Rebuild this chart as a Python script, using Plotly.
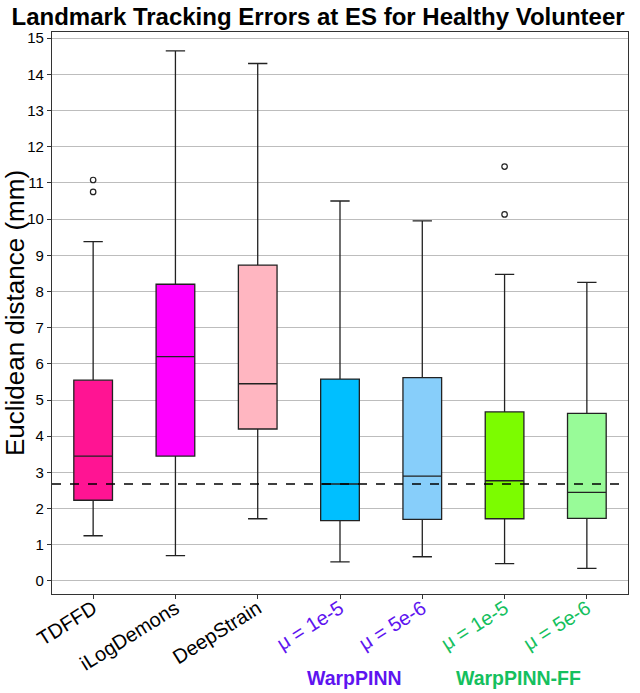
"""Landmark tracking errors at ES, healthy volunteer, as a Plotly box chart."""

import plotly.graph_objects as go

methods = ["TDFFD", "iLogDemons", "DeepStrain", "WarpPINN 1e-5", "WarpPINN 5e-6", "WarpPINN-FF 1e-5", "WarpPINN-FF 5e-6"]
tick_labels = ["TDFFD", "iLogDemons", "DeepStrain", "μ = 1e-5", "μ = 5e-6", "μ = 1e-5", "μ = 5e-6"]
lower_whisker = [1.25, 0.70, 1.72, 0.53, 0.67, 0.48, 0.35]
q1 = [2.23, 3.45, 4.20, 1.67, 1.70, 1.72, 1.73]
median = [3.45, 6.20, 5.45, 2.68, 2.90, 2.77, 2.45]
q3 = [5.55, 8.20, 8.73, 5.58, 5.62, 4.67, 4.63]
upper_whisker = [9.38, 14.65, 14.30, 10.50, 9.95, 8.47, 8.25]
outlier_method = ["TDFFD", "TDFFD", "WarpPINN-FF 1e-5", "WarpPINN-FF 1e-5"]
outlier_value = [10.75, 11.08, 10.13, 11.45]
reference_line = 2.68

COLORS = ["#FF1493", "#FF00FF", "#FFB6C1", "#00BFFF", "#87CEFA", "#7CFC00", "#98FB98"]
PURPLE = "#5E14F0"
GREEN = "#14C05E"
label_colors = ["#000000", "#000000", "#000000", PURPLE, PURPLE, GREEN, GREEN]

fig = go.Figure()
for i, name in enumerate(methods):
    fig.add_trace(go.Box(
        x=[name],
        q1=[q1[i]], median=[median[i]], q3=[q3[i]],
        lowerfence=[lower_whisker[i]], upperfence=[upper_whisker[i]],
        fillcolor=COLORS[i],
        line=dict(color="#222222", width=1.3),
        width=0.47,
        whiskerwidth=0.5,
        showlegend=False,
    ))

fig.add_trace(go.Scatter(
    x=outlier_method, y=outlier_value, mode="markers",
    marker=dict(symbol="circle-open", size=5.5, color="#222222", line=dict(width=1.2)),
    showlegend=False,
))

fig.add_hline(y=reference_line, line=dict(color="black", width=1.6, dash="dash"))

ticktext = [f'<span style="color:{c}">{t}</span>' for t, c in zip(tick_labels, label_colors)]

fig.update_layout(
    width=640, height=693,
    margin=dict(l=52, r=12, t=32, b=99, autoexpand=False),
    plot_bgcolor="white", paper_bgcolor="white",
    font=dict(family="Liberation Sans, Arial, sans-serif", color="black"),
    title=dict(text="<b>Landmark Tracking Errors at ES for Healthy Volunteer</b>",
               x=0.497, xanchor="center", y=0.988, yanchor="top",
               font=dict(size=24, color="black")),
)

fig.update_xaxes(
    tickmode="array", tickvals=methods, ticktext=ticktext, tickangle=-32,
    tickfont=dict(size=20), ticks="outside", ticklen=4, tickcolor="#333333",
    ticklabelstandoff=-10,
    showline=True, linecolor="#333333", linewidth=1.3, mirror=True,
    showgrid=False, range=[-0.5, 6.5], automargin=False,
)
fig.update_yaxes(
    range=[-0.36, 15.17], dtick=1, tick0=0,
    tickfont=dict(size=15), ticks="outside", ticklen=4, tickcolor="#333333",
    showline=True, linecolor="#333333", linewidth=1.3, mirror=True,
    showgrid=True, gridcolor="#BDBDBD", gridwidth=1, zeroline=False,
    title=dict(text="Euclidean distance (mm)", font=dict(size=26), standoff=0),
    automargin=False,
)

fig.add_annotation(text="<b>WarpPINN</b>", x=3.18, xref="x", y=-0.15, yref="paper",
                   yanchor="middle", showarrow=False, font=dict(size=19.5, color=PURPLE))
fig.add_annotation(text="<b>WarpPINN-FF</b>", x=5.17, xref="x", y=-0.15, yref="paper",
                   yanchor="middle", showarrow=False, font=dict(size=19.5, color=GREEN))

# the page body has an 8px default margin; drop it so the figure fills the window
fig.write_html("out.html", config={"displayModeBar": False},
               post_script="document.body.style.margin = '0';")
